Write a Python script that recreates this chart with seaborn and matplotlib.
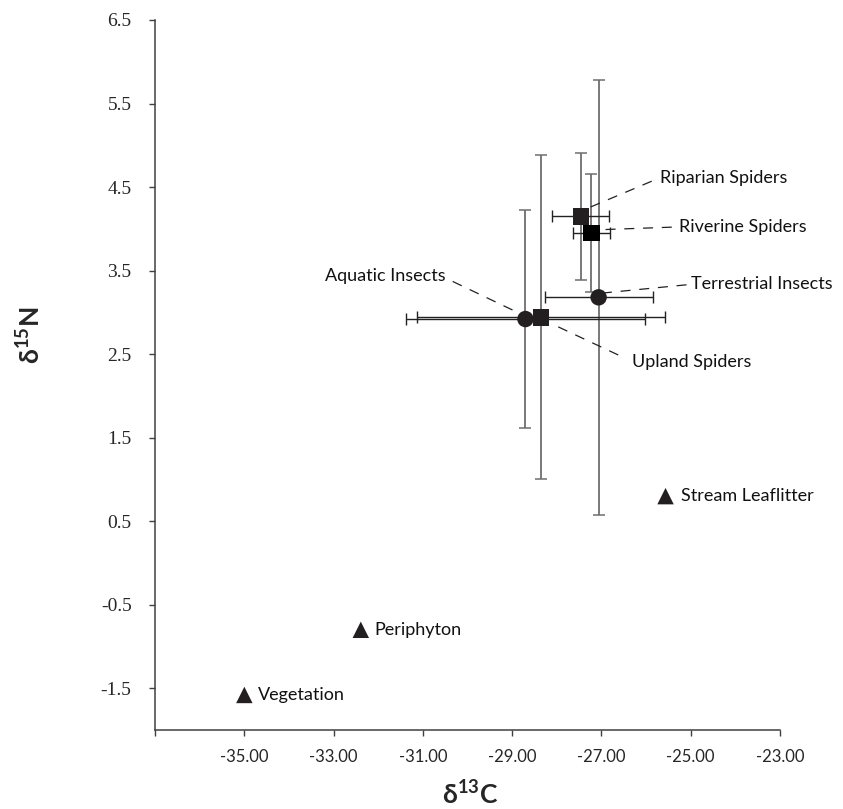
import numpy as np
import pandas as pd
import matplotlib
matplotlib.use("Agg")
import matplotlib.pyplot as plt
import seaborn as sns

sns.set_style("ticks")
plt.rcParams['font.family'] = ['Lato', 'DejaVu Sans']
plt.rcParams['mathtext.fontset'] = 'custom'
plt.rcParams['mathtext.rm'] = 'Lato'
plt.rcParams['mathtext.bf'] = 'Lato:bold'

# isotope values
groups = ["Vegetation", "Periphyton", "Stream Leaflitter", "Aquatic Insects",
          "Terrestrial Insects", "Upland Spiders", "Riparian Spiders", "Riverine Spiders"]
d13c = [-35.00, -32.39, -25.56, -28.70, -27.06, -28.35, -27.46, -27.22]
d15n = [-1.58, -0.80, 0.80, 2.92, 3.18, 2.94, 4.15, 3.95]
c_err = [0.0, 0.0, 0.0, 2.67, 1.21, 2.77, 0.64, 0.41]
n_err = [0.0, 0.0, 0.0, 1.31, 2.60, 1.94, 0.76, 0.71]
kind = ["source", "source", "source", "insect", "insect", "spider", "spider", "spider"]

# label text placement (data coords) and leader line start/end
label_pos = {
    "Vegetation": (-34.70, -1.58),
    "Periphyton": (-32.08, -0.80),
    "Stream Leaflitter": (-25.22, 0.80),
    "Riparian Spiders": (-25.68, 4.61),
    "Riverine Spiders": (-25.26, 4.02),
    "Terrestrial Insects": (-25.00, 3.34),
    "Upland Spiders": (-26.32, 2.41),
    "Aquatic Insects": (-30.49, 3.43),
}
leaders = {
    "Riparian Spiders": ((-25.87, 4.57), (-27.29, 4.25)),
    "Riverine Spiders": ((-25.42, 4.02), (-26.99, 3.99)),
    "Terrestrial Insects": ((-25.09, 3.33), (-26.99, 3.23)),
    "Upland Spiders": ((-26.62, 2.49), (-28.14, 2.87)),
    "Aquatic Insects": ((-30.33, 3.37), (-28.84, 2.99)),
}

df = pd.DataFrame({"group": groups, "d13C": d13c, "d15N": d15n,
                   "c_err": c_err, "n_err": n_err, "kind": kind})

fig = plt.figure(figsize=(8.43, 8.09), dpi=100)
ax = fig.add_axes([0.184, 0.0976, 0.741, 0.8777])

err = df[df["n_err"] > 0]
# vertical bars (grey) and horizontal bars (black)
ax.errorbar(err["d13C"], err["d15N"], yerr=err["n_err"], fmt="none",
            ecolor="#6e6e6e", elinewidth=1.3, capsize=4, capthick=1.1, zorder=1)
ax.errorbar(err["d13C"], err["d15N"], xerr=err["c_err"], fmt="none",
            ecolor="#222222", elinewidth=1.0, capsize=4, capthick=1.0, zorder=2)

palette = {g: "#231f20" for g in groups}
palette["Riverine Spiders"] = "#000000"
sns.scatterplot(data=df, x="d13C", y="d15N", hue="group", palette=palette,
                style="kind", markers={"source": "^", "insect": "o", "spider": "s"},
                s=140, edgecolor="none", legend=False, ax=ax, zorder=3)

for g in groups:
    tx, ty = label_pos[g]
    ha = "right" if g == "Aquatic Insects" else "left"
    ax.text(tx, ty, g, ha=ha, va="center", fontsize=13, color="#111111")
for g, (p0, p1) in leaders.items():
    ax.plot([p0[0], p1[0]], [p0[1], p1[1]], color="#222222", lw=0.9,
            dashes=(8, 7), zorder=2)

ax.set_xlim(-37, -23)
ax.set_ylim(-2, 6.5)
ax.set_xticks(np.arange(-37, -22, 2))
ax.set_xticklabels([""] + [f"{v:.2f}" for v in np.arange(-35, -22, 2)], fontsize=12)
yt = np.arange(-1.5, 7, 1.0)
ax.set_yticks(yt)
ax.set_yticklabels([f"{v:.1f}" for v in yt], fontsize=14, family="Liberation Serif")
ax.tick_params(axis="both", direction="out", length=4, width=1, color="#404040")
ax.tick_params(axis="y", pad=13)
ax.tick_params(axis="x", pad=10)
for sp in ["top", "right"]:
    ax.spines[sp].set_visible(False)
for sp in ["left", "bottom"]:
    ax.spines[sp].set_color("#404040")
    ax.spines[sp].set_linewidth(1.1)

ax.set_xlabel(r"δ$^{\mathbf{13}}$C", fontsize=19, fontweight="bold")
ax.set_ylabel(r"δ$^{\mathbf{15}}$N", fontsize=19, fontweight="bold")
ax.xaxis.label.set_va("center")
ax.yaxis.label.set_va("center")
ax.xaxis.set_label_coords(0.504, -0.09)
ax.yaxis.set_label_coords(-0.2, 0.556)

fig.savefig("out.png", dpi=100, facecolor="white")
